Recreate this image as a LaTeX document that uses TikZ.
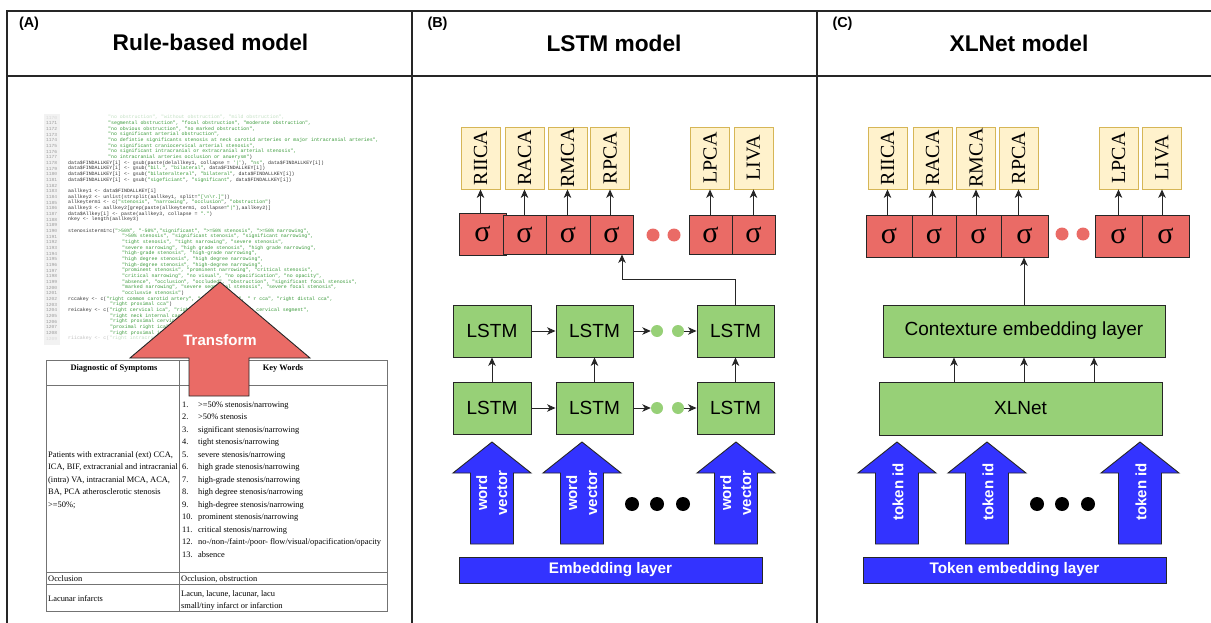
\documentclass[tikz,border=0pt]{standalone}
\usepackage{fontspec}
\setmainfont{Liberation Serif}
\newfontfamily\sansf{Liberation Sans}
\newfontfamily\monof{Liberation Mono}
\usetikzlibrary{arrows.meta}
\definecolor{redf}{HTML}{EA6B66}
\definecolor{greenf}{HTML}{97D077}
\definecolor{yellowf}{HTML}{FFF2CC}
\definecolor{yellowd}{HTML}{D6B656}
\definecolor{bluef}{HTML}{3333FF}
\definecolor{codegreen}{HTML}{3A9A3A}
\definecolor{codegray}{HTML}{333333}
\newcommand{\cs}[1]{\textcolor{codegreen}{#1}}
\newcommand{\codeline}[3]{%
  \node[lnum] (ln#1) at (46,{231+(#1-1190)*5.67}) {#1};
  \node[code] (cl#1) at (#2,{231+(#1-1190)*5.67}) {#3};}
\newcommand{\bluearr}[4]{%
  \path[barrow] (#1,442) -- (#1+39,473) -- (#1+21.5,473) -- (#1+21.5,544)
    -- (#1-21.5,544) -- (#1-21.5,473) -- (#1-39,473) -- cycle;
  \node[btext] (#2) at (#1+1,#4) {\rotatebox{90}{#3}};}
\tikzset{
  frameline/.style={draw=black!85, line width=1.2pt},
  ybox/.style={draw=yellowd, fill=yellowf, line width=0.8pt, minimum width=39pt, minimum height=62pt, inner sep=0pt, font=\fontsize{20}{20}\selectfont},
  sbox/.style={draw=black!85, fill=redf, line width=0.9pt, minimum width=43pt, minimum height=39pt, inner sep=0pt, font=\fontsize{30}{30}\selectfont},
  gbox/.style={draw=black!85, fill=greenf, line width=0.9pt, inner sep=0pt, font=\sansf\fontsize{19}{19}\selectfont},
  bbar/.style={draw=black!85, fill=bluef, line width=0.9pt, inner sep=0pt, minimum height=26pt, minimum width=303pt, text=white, font=\sansf\bfseries\fontsize{15.3}{15.3}\selectfont},
  arr/.style={-{Stealth[length=8.5pt,width=7.5pt,inset=2.5pt]}, line width=0.9pt, draw=black!85},
  pdot/.style={circle, fill=redf, minimum size=13pt, inner sep=0pt},
  gdot/.style={circle, fill=greenf, minimum size=12pt, inner sep=0pt},
  kdot/.style={circle, fill=black, minimum size=14pt, inner sep=0pt},
  barrow/.style={fill=bluef, draw=black!85, line width=0.9pt},
  btext/.style={text=white, inner sep=0pt, font=\sansf\bfseries\fontsize{15}{20}\selectfont},
  ptitle/.style={font=\sansf\bfseries\fontsize{22.7}{22.7}\selectfont},
  plabel/.style={font=\sansf\bfseries\fontsize{14.4}{14.4}\selectfont},
  code/.style={anchor=west, inner sep=0pt, font=\monof\fontsize{4.9}{5}\selectfont, text=codegray},
  lnum/.style={anchor=west, inner sep=0pt, font=\monof\fontsize{4.6}{5}\selectfont, text=black!40},
  tab/.style={anchor=base west, inner sep=0pt, font=\fontsize{8.4}{8.4}\selectfont},
  tabh/.style={anchor=base, inner sep=0pt, font=\bfseries\fontsize{8.4}{8.4}\selectfont},
  tline/.style={draw=black!55, line width=0.7pt},
  redarrow/.style={fill=redf, draw=black!85, line width=0.9pt}
}
\begin{document}
\begin{tikzpicture}[x=1pt,y=-1pt]
\useasboundingbox (0,0) rectangle (1211,623);
\clip (0,0) rectangle (1211,623);
\fill[white] (0,0) rectangle (1211,623);
% ---------------- frame
\draw[frameline] (7,640) -- (7,11) -- (1230,11);
\draw[frameline] (7,76) -- (1230,76);
\draw[frameline] (412,11) -- (412,640);
\draw[frameline] (817,11) -- (817,640);
% ---------------- headers
\node[plabel] (labA) at (29,23.5) {(A)};
\node[plabel] (labB) at (437.5,23.5) {(B)};
\node[plabel] (labC) at (842.5,23.5) {(C)};
\node[ptitle] (titA) at (210.5,42) {Rule-based model};
\node[ptitle] (titB) at (614,43) {LSTM model};
\node[ptitle] (titC) at (1019,43) {XLNet model};
% ---------------- panel A : code
\fill[black!5] (44,114) rectangle (60,345);
\begin{scope}[opacity=0.3]
\codeline{1170}{108}{\cs{"no obstruction", "without obstruction", "mild obstruction",}}
\end{scope}
\codeline{1171}{108}{\cs{"segmental obstruction", "focal obstruction", "moderate obstruction",}}
\codeline{1172}{108}{\cs{"no obvious obstruction", "no marked obstruction",}}
\codeline{1173}{108}{\cs{"no significant arterial obstruction",}}
\codeline{1174}{108}{\cs{"no defintie significants stenosis at neck carotid arteries or major intracranial arteries",}}
\codeline{1175}{108}{\cs{"no significant craniocervical arterial stenosis",}}
\codeline{1176}{108}{\cs{"no significant intracranial or extracranial arterial stenosis",}}
\codeline{1177}{108}{\cs{"no intracranial arteries occlusion or anuerysm"})}
\codeline{1178}{68}{data\$FINDALLKEY[i] <- gsub(paste(delallkey1, collapse = \cs{'|'}), \cs{"ns"}, data\$FINDALLKEY[i])}
\codeline{1179}{68}{data\$FINDALLKEY[i] <- gsub(\cs{"bil."}, \cs{"bilateral"}, data\$FINDALLKEY[i])}
\codeline{1180}{68}{data\$FINDALLKEY[i] <- gsub(\cs{"bilateralteral"}, \cs{"bilateral"}, data\$FINDALLKEY[i])}
\codeline{1181}{68}{data\$FINDALLKEY[i] <- gsub(\cs{"sigeficiant"}, \cs{"significant"}, data\$FINDALLKEY[i])}
\codeline{1182}{68}{}
\codeline{1183}{68}{aallkey1 <- data\$FINDALLKEY[i]}
\codeline{1184}{68}{aallkey2 <- unlist(strsplit(aallkey1, split=\cs{"[\textbackslash n\textbackslash r.]"}))}
\codeline{1185}{68}{allkeyterm1 <- c(\cs{"stenosis"}, \cs{"narrowing"}, \cs{"occlusion"}, \cs{"obstruction"})}
\codeline{1186}{68}{aallkey3 <- aallkey2[grep(paste(allkeyterm1, collapse=\cs{"|"}),aallkey2)]}
\codeline{1187}{68}{data\$Allkey[i] <- paste(aallkey3, collapse = \cs{"."})}
\codeline{1188}{68}{nkey <- length(aallkey3)}
\codeline{1189}{68}{}
\codeline{1190}{68}{stenosisterm1=c(\cs{">50\%", "-50\%","significant", ">=50\% stenosis", ">=50\% narrowing",}}
\codeline{1191}{122}{\cs{">50\% stenosis", "significant stenosis", "significant narrowing",}}
\codeline{1192}{122}{\cs{"tight stenosis", "tight narrowing", "severe stenosis",}}
\codeline{1193}{122}{\cs{"severe narrowing", "high grade stenosis", "high grade narrowing",}}
\codeline{1194}{122}{\cs{"high-grade stenosis", "high-grade narrowing",}}
\codeline{1195}{122}{\cs{"high degree stenosis", "high degree narrowing",}}
\codeline{1196}{122}{\cs{"high-degree stenosis", "high-degree narrowing",}}
\codeline{1197}{122}{\cs{"prominent stenosis", "prominent narrowing", "critical stenosis",}}
\codeline{1198}{122}{\cs{"critical narrowing", "no visual", "no opacification", "no opacity",}}
\codeline{1199}{122}{\cs{"absence", "occlusion", "occluded", "obstruction", "significant focal stenosis",}}
\codeline{1200}{122}{\cs{"marked narrowing", "severe segmental stenosis", "severe focal stenosis",}}
\codeline{1201}{122}{\cs{"occlusvie stenosis"})}
\codeline{1202}{68}{rccakey <- c(\cs{"right common carotid artery", "right ext cca", " r cca", "right distal cca",}}
\codeline{1203}{110}{\cs{"right proximal cca"})}
\codeline{1204}{68}{reicakey <- c(\cs{"right cervical ica", "right ext ica", "right ica cervical segment",}}
\codeline{1205}{110}{\cs{"right neck internal carotid artery",}}
\codeline{1206}{110}{\cs{"right proximal cervical ica",}}
\codeline{1207}{110}{\cs{"proximal right ica",}}
\codeline{1208}{110}{\cs{"right proximal ica",}}
\begin{scope}[opacity=0.3]
\codeline{1209}{68}{riicakey <- c(\cs{"right intracranial ica",}}
\end{scope}
% ---------------- panel A : table
\draw[tline] (46,360) rectangle (387,611);
\draw[tline] (46,385) -- (387,385);
\draw[tline] (46,572) -- (387,572);
\draw[tline] (46,584) -- (387,584);
\draw[tline] (179,360) -- (179,611);
\node[tabh] (h1) at (114,370) {Diagnostic of Symptoms};
\node[tabh] (h2) at (283,370) {Key Words};
\foreach \k/\t in {1/{>=50\% stenosis/narrowing},2/{>50\% stenosis},3/{significant stenosis/narrowing},4/{tight stenosis/narrowing},5/{severe stenosis/narrowing},6/{high grade stenosis/narrowing},7/{high-grade stenosis/narrowing},8/{high degree stenosis/narrowing},9/{high-degree stenosis/narrowing},10/{prominent stenosis/narrowing},11/{critical stenosis/narrowing},12/{no-/non-/faint-/poor- flow/visual/opacification/opacity},13/{absence}}{
  \node[tab] (kn\k) at (182,{407+(\k-1)*12.5}) {\k.};
  \node[tab] (kw\k) at (198,{407+(\k-1)*12.5}) {\t};
}
\node[tab] (d1) at (48,457) {Patients with extracranial (ext) CCA,};
\node[tab] (d2) at (48,469.5) {ICA, BIF, extracranial and intracranial};
\node[tab] (d3) at (48,482) {(intra) VA, intracranial MCA, ACA,};
\node[tab] (d4) at (48,494.5) {BA, PCA atherosclerotic stenosis};
\node[tab] (d5) at (48,507) {>=50\%;};
\node[tab] (o1) at (48,581) {Occlusion};
\node[tab] (o2) at (181,581) {Occlusion, obstruction};
\node[tab] (la1) at (48,601) {Lacunar infarcts};
\node[tab] (la2) at (181,596) {Lacun, lacune, lacunar, lacu};
\node[tab] (la3) at (181,608) {small/tiny infarct or infarction};
% ---------------- panel A : transform arrow
\path[redarrow] (220,282) -- (310,358) -- (249,358) -- (249,396) -- (189,396) -- (189,358) -- (130,358) -- cycle;
\node[text=white, font=\sansf\bfseries\fontsize{15}{15}\selectfont] (trans) at (220,340) {Transform};
% ================= panel B
\node[ybox] (yb1) at (480.5,158) {\rotatebox{90}{RIICA}};
\node[ybox] (yb2) at (524.5,158) {\rotatebox{90}{RACA}};
\node[ybox] (yb3) at (567.5,158) {\rotatebox{90}{RMCA}};
\node[ybox] (yb4) at (610,158) {\rotatebox{90}{RPCA}};
\node[ybox] (yb5) at (710,158) {\rotatebox{90}{LPCA}};
\node[ybox] (yb6) at (753.5,158) {\rotatebox{90}{LIVA}};
\node[sbox, minimum width=47pt, minimum height=42pt] (sb1) at (482.5,234) {σ};
\node[sbox] (sb2) at (524.5,234.5) {σ};
\node[sbox, minimum width=44pt] (sb3) at (568,234.5) {σ};
\node[sbox] (sb4) at (611.5,234.5) {σ};
\node[sbox] (sb5) at (710.5,234.5) {σ};
\node[sbox] (sb6) at (753.5,234.5) {σ};
\foreach \i in {1,...,6}{\draw[arr] (yb\i.south |- sb\i.north) -- (yb\i.south);}
\node[pdot] (pb1) at (653,235) {};
\node[pdot] (pb2) at (674,235) {};
\node[gbox, minimum width=78pt, minimum height=52pt] (lt1) at (492,331) {LSTM};
\node[gbox, minimum width=77pt, minimum height=52pt] (lt2) at (594.5,331) {LSTM};
\node[gbox, minimum width=77pt, minimum height=52pt] (lt3) at (735.5,331) {LSTM};
\node[gbox, minimum width=78pt, minimum height=52pt] (lb1) at (492,408) {LSTM};
\node[gbox, minimum width=77pt, minimum height=52pt] (lb2) at (594.5,408) {LSTM};
\node[gbox, minimum width=77pt, minimum height=52pt] (lb3) at (735.5,408) {LSTM};
\node[gdot] (gt1) at (657,331) {};
\node[gdot] (gt2) at (678,331) {};
\node[gdot] (gb1) at (657,408) {};
\node[gdot] (gb2) at (678,408) {};
\draw[arr] (lt1.east) -- (lt2.west);
\draw[arr] (lt2.east) -- (gt1.west);
\draw[arr] (gt2.east) -- (lt3.west);
\draw[arr] (lb1.east) -- (lb2.west);
\draw[arr] (lb2.east) -- (gb1.west);
\draw[arr] (gb2.east) -- (lb3.west);
\foreach \i in {1,2,3}{\draw[arr] (lb\i.north) -- (lt\i.south);}
\coordinate (fb) at (622,279);
\draw[arr] (lt3.north) |- (fb) -- (fb |- sb4.south);
\bluearr{492}{wb1}{\begin{tabular}{@{}c@{}}word\\vector\end{tabular}}{493}
\bluearr{582}{wb2}{\begin{tabular}{@{}c@{}}word\\vector\end{tabular}}{493}
\bluearr{736}{wb3}{\begin{tabular}{@{}c@{}}word\\vector\end{tabular}}{493}
\node[kdot] (kb1) at (632,504) {};
\node[kdot] (kb2) at (657,504) {};
\node[kdot] (kb3) at (683,504) {};
\node[bbar] (emb) at (610.5,570) {Embedding layer};
% ================= panel C
\node[ybox] (yc1) at (887.5,158) {\rotatebox{90}{RIICA}};
\node[ybox] (yc2) at (932.5,158) {\rotatebox{90}{RACA}};
\node[ybox] (yc3) at (976,158) {\rotatebox{90}{RMCA}};
\node[ybox] (yc4) at (1018.5,158) {\rotatebox{90}{RPCA}};
\node[ybox] (yc5) at (1118.5,158) {\rotatebox{90}{LPCA}};
\node[ybox] (yc6) at (1162,158) {\rotatebox{90}{LIVA}};
\node[sbox, minimum width=46pt, minimum height=42pt] (sc1) at (889,236) {σ};
\node[sbox, minimum width=44pt, minimum height=42pt] (sc2) at (934,236) {σ};
\node[sbox, minimum width=45pt, minimum height=42pt] (sc3) at (978.5,236) {σ};
\node[sbox, minimum width=47pt, minimum height=42pt] (sc4) at (1024.5,236) {σ};
\node[sbox, minimum width=47pt, minimum height=42pt] (sc5) at (1118.5,236) {σ};
\node[sbox, minimum width=47pt, minimum height=42pt] (sc6) at (1165.5,236) {σ};
\foreach \i in {1,...,6}{\draw[arr] (yc\i.south |- sc\i.north) -- (yc\i.south);}
\node[pdot] (pc1) at (1062,234) {};
\node[pdot] (pc2) at (1083,234) {};
\node[gbox, minimum width=282pt, minimum height=52pt] (ctx) at (1024,331) {Contexture embedding layer};
\node[gbox, minimum width=283pt, minimum height=53pt] (xl) at (1020.5,408.5) {XLNet};
\foreach \s in {-66.5,3.5,73.5}{\draw[arr] ([xshift=\s pt]xl.north) -- ([xshift=\s pt]xl.north |- ctx.south);}
\draw[arr] (ctx.north) -- (ctx.north |- sc4.south);
\bluearr{897}{tc1}{token id}{492}
\bluearr{987}{tc2}{token id}{492}
\bluearr{1140}{tc3}{token id}{492}
\node[kdot] (kc1) at (1037,504) {};
\node[kdot] (kc2) at (1062,504) {};
\node[kdot] (kc3) at (1088,504) {};
\node[bbar] (tok) at (1014.5,570) {Token embedding layer};
\end{tikzpicture}
\end{document}
